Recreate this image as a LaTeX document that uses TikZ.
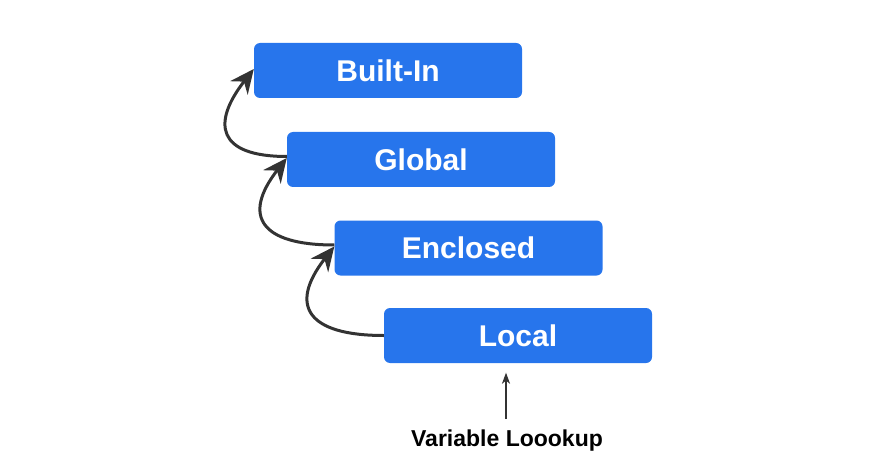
\documentclass[tikz,border=0pt]{standalone}
\usepackage{fontspec}
\setmainfont{Liberation Sans}
\usetikzlibrary{arrows.meta}
\definecolor{scopeblue}{HTML}{2775EC}
\definecolor{arrowgray}{HTML}{333333}
\tikzset{
  scopebox/.style={fill=scopeblue,rounded corners=6pt,minimum width=268pt,minimum height=55pt,
    inner sep=0pt,text=white,font=\fontsize{30}{36}\selectfont\bfseries},
  uparrow/.style={arrowgray,line width=3pt,-{Stealth[length=24pt,width=22pt,inset=8pt]}},
  lookarrow/.style={arrowgray,line width=1.5pt,-{Stealth[length=11pt,width=8pt,inset=3pt]}}
}
\begin{document}
\begin{tikzpicture}[x=1pt,y=1pt]
\useasboundingbox (0,0) rectangle (872,-473);
\coordinate (B) at (388,-70.5);
\coordinate (G) at (421,-159.5);
\coordinate (E) at (468.5,-248);
\coordinate (L) at (518,-335.5);
\coordinate (V) at (507,-441);

\node[scopebox] (builtin) at (B) {Built-In};
\node[scopebox] (global) at (G) {Global};
\node[scopebox] (enclosed) at (E) {Enclosed};
\node[scopebox] (local) at (L) {Local};
\node[inner sep=0pt,font=\fontsize{23}{28}\selectfont\bfseries] (lookup) at (V) {Variable Loookup};

\draw[uparrow] ([yshift=3pt]global.west) to[out=180,in=232,looseness=1.9] ([yshift=1.5pt]builtin.west);
\draw[uparrow] ([yshift=3pt]enclosed.west) to[out=180,in=232,looseness=1.9] ([yshift=1.5pt]global.west);
\draw[uparrow] ([yshift=0pt]local.west) to[out=180,in=232,looseness=1.9] ([yshift=1.5pt]enclosed.west);
\draw[lookarrow,shorten <=11pt,shorten >=9.5pt] ([xshift=-1pt]lookup.north) -- ([xshift=-1pt]lookup.north |- local.south);
\end{tikzpicture}
\end{document}
